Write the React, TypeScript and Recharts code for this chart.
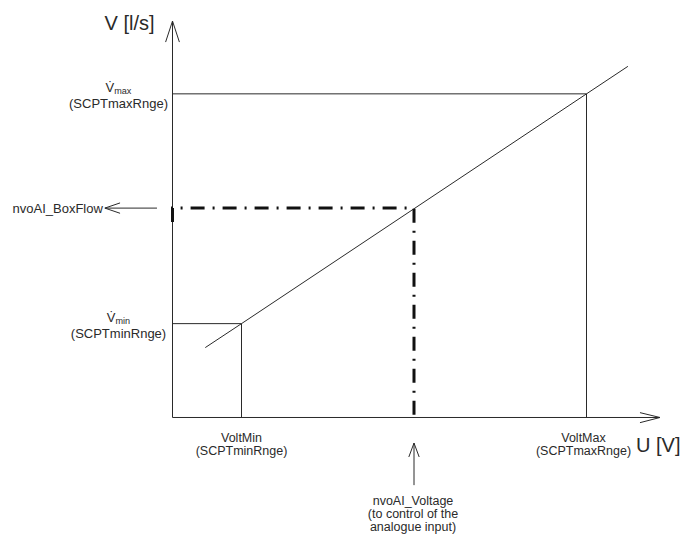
import React from "react";
import { LineChart, Line, XAxis, YAxis, ReferenceDot } from "recharts";

// characteristic: volume flow V [l/s] over control voltage U [V]
const voltMin = 2;
const voltMax = 12;
const voltOp = 7;
const flowMin = 29;
const flowMax = 100;
const flowOp = 64.7;

const characteristic = [
  { u: 0.95, v: 21.6 },
  { u: 2, v: 29 },
  { u: 12, v: 100 },
  { u: 13.2, v: 108.5 },
];

const maxGuide = [
  { u: 0, v: 100 },
  { u: 12, v: 100 },
  { u: 12, v: 0 },
];

const minGuide = [
  { u: 0, v: 29 },
  { u: 2, v: 29 },
  { u: 2, v: 0 },
];

const operatingGuide = [
  { u: 0, v: 60.4 },
  { u: 0, v: 64.7 },
  { u: 7, v: 64.7 },
  { u: 7, v: 0 },
];

const yAxisLine = [
  { u: 0, v: 0 },
  { u: 0, v: 122.5 },
];
const yArrowHead = [
  { u: -0.2, v: 116 },
  { u: 0, v: 122.5 },
  { u: 0.2, v: 116 },
];
const xAxisLine = [
  { u: 0, v: 0 },
  { u: 14.13, v: 0 },
];
const xArrowHead = [
  { u: 13.55, v: 1.5 },
  { u: 14.13, v: 0 },
  { u: 13.55, v: -1.6 },
];
const flowArrow = [
  { u: -0.45, v: 64.7 },
  { u: -1.96, v: 64.7 },
];
const flowArrowHead = [
  { u: -1.52, v: 66.3 },
  { u: -1.96, v: 64.7 },
  { u: -1.52, v: 63.1 },
];
const voltArrow = [
  { u: 7, v: -20.9 },
  { u: 7, v: -7.9 },
];
const voltArrowHead = [
  { u: 6.85, v: -12.2 },
  { u: 7, v: -7.9 },
  { u: 7.15, v: -12.2 },
];

const yTitle = "V [l/s]";
const xTitle = "U [V]";
const flowMaxLines = ["(SCPTmaxRnge)"];
const flowMinLines = ["(SCPTminRnge)"];
const flowOpText = "nvoAI_BoxFlow";
const voltMinLines = ["VoltMin", "(SCPTminRnge)"];
const voltMaxLines = ["VoltMax", "(SCPTmaxRnge)"];
const voltOpLines = ["nvoAI_Voltage", "(to control of the", "analogue input)"];

const INK = "#2a2a2a";
const FONT = "'Liberation Sans', Arial, Helvetica, sans-serif";

interface TextProps {
  cx?: number;
  cy?: number;
  lines: string[];
  dx?: number;
  dy?: number;
  anchor?: "start" | "middle" | "end";
  size?: number;
  gap?: number;
  head?: string;
  sub?: string;
}

function MultiText({ cx = 0, cy = 0, lines, dx = 0, dy = 0, anchor = "middle", size = 13, gap = 13, head, sub }: TextProps) {
  const x = cx + dx;
  const y = cy + dy;
  return (
    <g>
      {head && (
        <text x={x} y={y - 2} textAnchor={anchor} fontSize={size} fill={INK} fontFamily={FONT}>
          {head}
          {sub && (
            <tspan fontSize={size * 0.7} dy={2}>
              {sub}
            </tspan>
          )}
        </text>
      )}
      {lines.map((l, i) => (
        <text
          key={i}
          x={x}
          y={y + (head ? gap + 1 : 0) + i * gap}
          textAnchor={anchor}
          fontSize={size}
          fill={INK}
          fontFamily={FONT}
        >
          {l}
        </text>
      ))}
    </g>
  );
}

const thin = (data: { u: number; v: number }[], key: string) => (
  <Line
    key={key}
    data={data}
    dataKey="v"
    type="linear"
    stroke={INK}
    strokeWidth={1}
    dot={false}
    activeDot={false}
    isAnimationActive={false}
    legendType="none"
  />
);

export default function App() {
  return (
    <div style={{ position: "absolute", left: 0, top: 0, width: 690, height: 534, background: "#fff" }}>
      <LineChart width={690} height={534} margin={{ top: 0, right: 0, bottom: 0, left: 0 }}>
        <XAxis dataKey="u" type="number" domain={[-5, 15]} allowDataOverflow hide />
        <YAxis type="number" domain={[-36, 129]} allowDataOverflow hide />

        {thin(yAxisLine, "ya")}
        {thin(yArrowHead, "yh")}
        {thin(xAxisLine, "xa")}
        {thin(xArrowHead, "xh")}
        {thin(maxGuide, "max")}
        {thin(minGuide, "min")}
        {thin(characteristic, "char")}
        {thin(flowArrow, "fa")}
        {thin(flowArrowHead, "fh")}
        {thin(voltArrow, "va")}
        {thin(voltArrowHead, "vh")}

        <Line
          data={operatingGuide}
          dataKey="v"
          type="linear"
          stroke="#111"
          strokeWidth={3}
          strokeDasharray="14 8 2 8"
          dot={false}
          activeDot={false}
          isAnimationActive={false}
          legendType="none"
        />

        <ReferenceDot
          x={0}
          y={122.5}
          r={0}
          shape={(p: any) => <MultiText cx={p.cx} cy={p.cy} lines={[yTitle]} dx={-43} dy={9} size={20} />}
        />
        <ReferenceDot
          x={14.13}
          y={0}
          r={0}
          shape={(p: any) => <MultiText cx={p.cx} cy={p.cy} lines={[xTitle]} dx={-24} dy={35} anchor="start" size={20} />}
        />
        <ReferenceDot
          x={0}
          y={flowMax}
          r={0}
          shape={(p: any) => (
            <MultiText cx={p.cx} cy={p.cy} head={"V\u0307"} sub="max" lines={flowMaxLines} dx={-54} dy={0} />
          )}
        />
        <ReferenceDot
          x={0}
          y={flowMin}
          r={0}
          shape={(p: any) => (
            <MultiText cx={p.cx} cy={p.cy} head={"V\u0307"} sub="min" lines={flowMinLines} dx={-54} dy={0} />
          )}
        />
        <ReferenceDot
          x={-1.96}
          y={flowOp}
          r={0}
          shape={(p: any) => <MultiText cx={p.cx} cy={p.cy} lines={[flowOpText]} dx={-2} dy={5} anchor="end" />}
        />
        <ReferenceDot
          x={voltMin}
          y={0}
          r={0}
          shape={(p: any) => <MultiText cx={p.cx} cy={p.cy} lines={voltMinLines} dy={25} size={12.5} />}
        />
        <ReferenceDot
          x={voltMax}
          y={0}
          r={0}
          shape={(p: any) => <MultiText cx={p.cx} cy={p.cy} lines={voltMaxLines} dx={-3} dy={25} size={12.5} />}
        />
        <ReferenceDot
          x={voltOp}
          y={-20.9}
          r={0}
          shape={(p: any) => <MultiText cx={p.cx} cy={p.cy} lines={voltOpLines} dx={-1} dy={20} size={12.5} />}
        />
      </LineChart>
    </div>
  );
}
